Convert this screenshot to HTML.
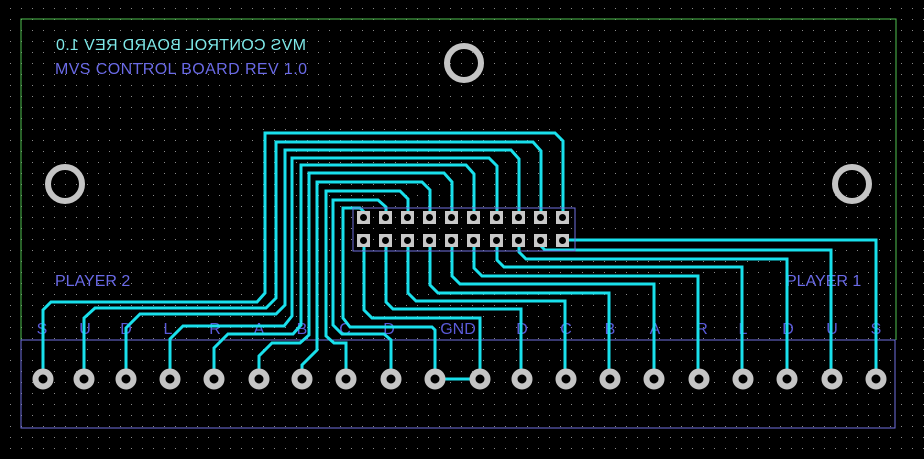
<!DOCTYPE html>
<html><head><style>
html,body{margin:0;padding:0;background:#000;}
svg{display:block;}
text{font-family:"Liberation Sans",sans-serif;}
</style></head><body>
<svg width="924" height="459" viewBox="0 0 924 459" xmlns="http://www.w3.org/2000/svg">
<defs>
<pattern id="g" x="10" y="8" width="11" height="11" patternUnits="userSpaceOnUse">
<rect width="1" height="1" fill="#8a8a8a"/>
</pattern>
</defs>
<rect width="924" height="459" fill="#000"/>
<rect width="924" height="459" fill="url(#g)"/>
<polyline points="21,428 21,19 896,19 896,340" fill="none" stroke="#4fc24f" stroke-width="1"/>
<rect x="21" y="340" width="874" height="88" fill="none" stroke="#7070e0" stroke-width="1"/>
<text x="0" y="0" transform="translate(306,50) scale(-1,1)" font-size="16" textLength="250" fill="#7ee8e8">MVS CONTROL BOARD REV 1.0</text>
<text x="55" y="74" font-size="16" textLength="252" fill="#6a6ae6">MVS CONTROL BOARD REV 1.0</text>
<text x="55" y="286" font-size="16" fill="#6a6ae6">PLAYER 2</text>
<text x="786" y="286" font-size="16" fill="#6a6ae6">PLAYER 1</text>
<g font-size="16" fill="#5a5ad8" text-anchor="middle">
<text x="42" y="334">S</text><text x="85" y="334">U</text><text x="126" y="334">D</text>
<text x="168" y="334">L</text><text x="215" y="334">R</text><text x="259" y="334">A</text>
<text x="302" y="334">B</text><text x="345" y="334">C</text><text x="389" y="334">D</text>
<text x="458" y="334">GND</text>
<text x="522" y="334">D</text><text x="566" y="334">C</text><text x="610" y="334">B</text>
<text x="655" y="334">A</text><text x="702" y="334">R</text><text x="743" y="334">L</text>
<text x="788" y="334">D</text><text x="832" y="334">U</text><text x="876" y="334">S</text>
</g>
<g fill="none" stroke="#19e0ec" stroke-width="3" stroke-linejoin="miter">
<polyline points="563,217 563,141 555,133 265,133 265,293 257,302 51,302 43,310 43,379"/>
<polyline points="541,217 541,151 533,142 276,142 276,298 266,308 95,308 84,318 84,379"/>
<polyline points="519,217 519,159 511,150 285,150 285,305 276,314 140,314 126,328 126,379"/>
<polyline points="497,217 497,166 489,158 292,158 292,316 284,326 183,326 170,339 170,379"/>
<polyline points="474,217 474,174 466,165 301,165 301,325 293,334 228,334 214,348 214,379"/>
<polyline points="452,217 452,182 444,173 309,173 309,335 300,343 272,343 259,356 259,379"/>
<polyline points="430,217 430,190 422,182 317,182 317,350 302,365 302,379"/>
<polyline points="408,217 408,199 400,191 326,191 326,336 334,343 346,343 346,379"/>
<polyline points="386,217 386,207 378,200 333,200 333,325 342,334 384,334 391,340 391,379"/>
<polyline points="364,217 364,212 360,208 343,208 343,318 350,327 432,327 435,330 435,379 480,379"/>
<polyline points="563,240 876,240 876,379"/>
<polyline points="541,240 541,246 545,250 831,250 831,379"/>
<polyline points="519,240 519,252 526,259 787,259 787,379"/>
<polyline points="497,240 497,260 504,267 742,267 742,379"/>
<polyline points="474,240 474,268 482,276 698,276 698,379"/>
<polyline points="452,240 452,276 460,284 654,284 654,379"/>
<polyline points="430,240 430,285 438,293 609,293 609,379"/>
<polyline points="408,240 408,293 416,301 565,301 565,379"/>
<polyline points="386,240 386,302 393,309 521,309 521,379"/>
<polyline points="364,240 364,310 372,318 480,318 480,379"/>
</g>
<rect x="353" y="208" width="222" height="43" fill="none" stroke="#7070e0" stroke-width="1"/>
<g fill="#c8c8c8">
<rect x="357" y="211" width="13" height="13"/><rect x="379" y="211" width="13" height="13"/><rect x="401" y="211" width="13" height="13"/><rect x="423" y="211" width="13" height="13"/><rect x="445" y="211" width="13" height="13"/><rect x="467" y="211" width="13" height="13"/><rect x="490" y="211" width="13" height="13"/><rect x="512" y="211" width="13" height="13"/><rect x="534" y="211" width="13" height="13"/><rect x="556" y="211" width="13" height="13"/>
<rect x="357" y="234" width="13" height="13"/><rect x="379" y="234" width="13" height="13"/><rect x="401" y="234" width="13" height="13"/><rect x="423" y="234" width="13" height="13"/><rect x="445" y="234" width="13" height="13"/><rect x="467" y="234" width="13" height="13"/><rect x="490" y="234" width="13" height="13"/><rect x="512" y="234" width="13" height="13"/><rect x="534" y="234" width="13" height="13"/><rect x="556" y="234" width="13" height="13"/>
</g>
<g fill="#000">
<circle cx="363.5" cy="217.5" r="3.5"/><circle cx="385.5" cy="217.5" r="3.5"/><circle cx="407.5" cy="217.5" r="3.5"/><circle cx="429.5" cy="217.5" r="3.5"/><circle cx="451.5" cy="217.5" r="3.5"/><circle cx="473.5" cy="217.5" r="3.5"/><circle cx="496.5" cy="217.5" r="3.5"/><circle cx="518.5" cy="217.5" r="3.5"/><circle cx="540.5" cy="217.5" r="3.5"/><circle cx="562.5" cy="217.5" r="3.5"/>
<circle cx="363.5" cy="240.5" r="3.5"/><circle cx="385.5" cy="240.5" r="3.5"/><circle cx="407.5" cy="240.5" r="3.5"/><circle cx="429.5" cy="240.5" r="3.5"/><circle cx="451.5" cy="240.5" r="3.5"/><circle cx="473.5" cy="240.5" r="3.5"/><circle cx="496.5" cy="240.5" r="3.5"/><circle cx="518.5" cy="240.5" r="3.5"/><circle cx="540.5" cy="240.5" r="3.5"/><circle cx="562.5" cy="240.5" r="3.5"/>
</g>
<g fill="#000" stroke="#c4c4c4" stroke-width="6">
<circle cx="43" cy="379" r="7.5"/><circle cx="84" cy="379" r="7.5"/><circle cx="126" cy="379" r="7.5"/><circle cx="170" cy="379" r="7.5"/><circle cx="214" cy="379" r="7.5"/><circle cx="259" cy="379" r="7.5"/><circle cx="302" cy="379" r="7.5"/><circle cx="346" cy="379" r="7.5"/><circle cx="391" cy="379" r="7.5"/><circle cx="435" cy="379" r="7.5"/>
<circle cx="480" cy="379" r="7.5"/><circle cx="522" cy="379" r="7.5"/><circle cx="566" cy="379" r="7.5"/><circle cx="610" cy="379" r="7.5"/><circle cx="654" cy="379" r="7.5"/><circle cx="699" cy="379" r="7.5"/><circle cx="743" cy="379" r="7.5"/><circle cx="787" cy="379" r="7.5"/><circle cx="832" cy="379" r="7.5"/><circle cx="876" cy="379" r="7.5"/>
</g>
<g fill="none" stroke="#c4c4c4" stroke-width="6">
<circle cx="464" cy="63" r="17"/>
<circle cx="65" cy="184" r="17"/>
<circle cx="852" cy="184" r="17"/>
</g>
</svg>
</body></html>
